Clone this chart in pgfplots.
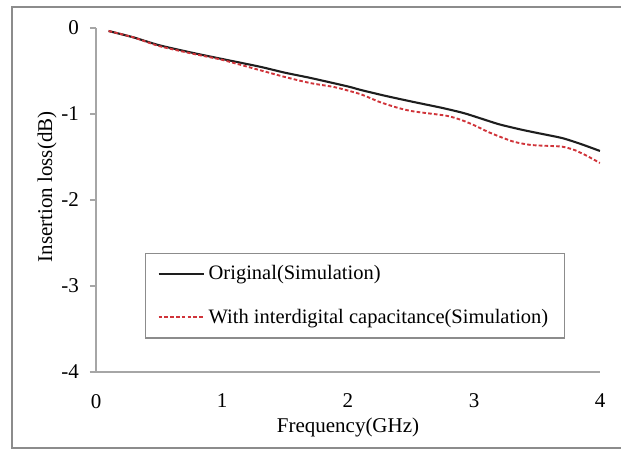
\documentclass[border=0pt]{standalone}
\usepackage{fontspec}
\setmainfont{Liberation Serif}
\usepackage{pgfplots}
\pgfplotsset{compat=1.18}

\definecolor{axisgray}{HTML}{A6A6A6}
\definecolor{framegray}{HTML}{8C8C8C}
\definecolor{simred}{HTML}{D0343A}
\definecolor{simblack}{HTML}{1E1E1E}

\begin{document}
\begin{tikzpicture}
\begin{axis}[
    name=ax,
    at={(0,0)}, anchor=south west,
    scale only axis,
    width=252bp, height=172bp,
    xmin=0, xmax=4,
    ymin=-4, ymax=0,
    xtick={0,1,2,3,4},
    ytick={-4,-3,-2,-1,0},
    axis lines*=left,
    axis line style={axisgray, line width=0.7bp, -},
    x axis line style={shorten <=-3bp},
    xtick style={draw=none},
    ytick style={axisgray, line width=0.6bp},
    tick align=outside,
    major tick length=3bp,
    font=\fontsize{10.5bp}{12bp}\selectfont,
    /pgf/number format/assume math mode=true,
    xticklabel style={yshift=-4.5bp},
    yticklabel style={xshift=-2bp},
    xlabel={Frequency(GHz)},
    ylabel={Insertion loss(dB)},
    xlabel style={at={(axis description cs:0.5,-0.16)}, anchor=center},
    ylabel style={at={(axis description cs:-0.0972,0.538)}, anchor=center},
    legend style={at={(axis description cs:0.0972,0.3459)}, anchor=north west,
        draw=framegray, line width=0.6bp, inner xsep=6bp, inner ysep=4bp,
        row sep=9bp, font=\fontsize{10.25bp}{12bp}\selectfont},
    legend cell align=left,
    legend image code/.code={\draw[#1] (0bp,0bp) -- (22.5bp,0bp);},
]

\addplot[simblack, line width=1.05bp, smooth, tension=0.4] coordinates {
(0.1,-0.035)(0.3,-0.11)(0.5,-0.20)(0.77,-0.29)(1.0,-0.36)(1.3,-0.45)
(1.5,-0.52)(1.7,-0.58)(2.0,-0.68)(2.1,-0.72)(2.3,-0.79)(2.52,-0.86)
(2.75,-0.93)(2.92,-0.99)(3.05,-1.05)(3.2,-1.12)(3.37,-1.18)(3.5,-1.22)
(3.7,-1.28)(3.85,-1.35)(4.0,-1.43)
};
\addlegendentry{Original(Simulation)}

\addplot[simred, line width=0.95bp, dash pattern=on 1.8bp off 1.1bp, smooth, tension=0.4] coordinates {
(0.1,-0.035)(0.3,-0.11)(0.5,-0.21)(0.77,-0.30)(1.0,-0.37)(1.3,-0.49)
(1.5,-0.57)(1.7,-0.64)(1.9,-0.69)(2.1,-0.77)(2.25,-0.86)(2.4,-0.93)
(2.52,-0.97)(2.78,-1.02)(2.9,-1.07)(3.0,-1.13)(3.13,-1.22)(3.31,-1.32)
(3.45,-1.36)(3.58,-1.37)(3.7,-1.38)(3.8,-1.42)(3.9,-1.49)(4.0,-1.57)
};
\addlegendentry{With interdigital capacitance(Simulation)}

\end{axis}
\pgfresetboundingbox
\useasboundingbox (-48bp,-40bp) rectangle (262.5bp,186bp);
\draw[framegray, line width=0.6bp] (270bp,182.5bp) -- (-42bp,182.5bp) -- (-42bp,-38bp) -- (270bp,-38bp);
\end{tikzpicture}
\end{document}
